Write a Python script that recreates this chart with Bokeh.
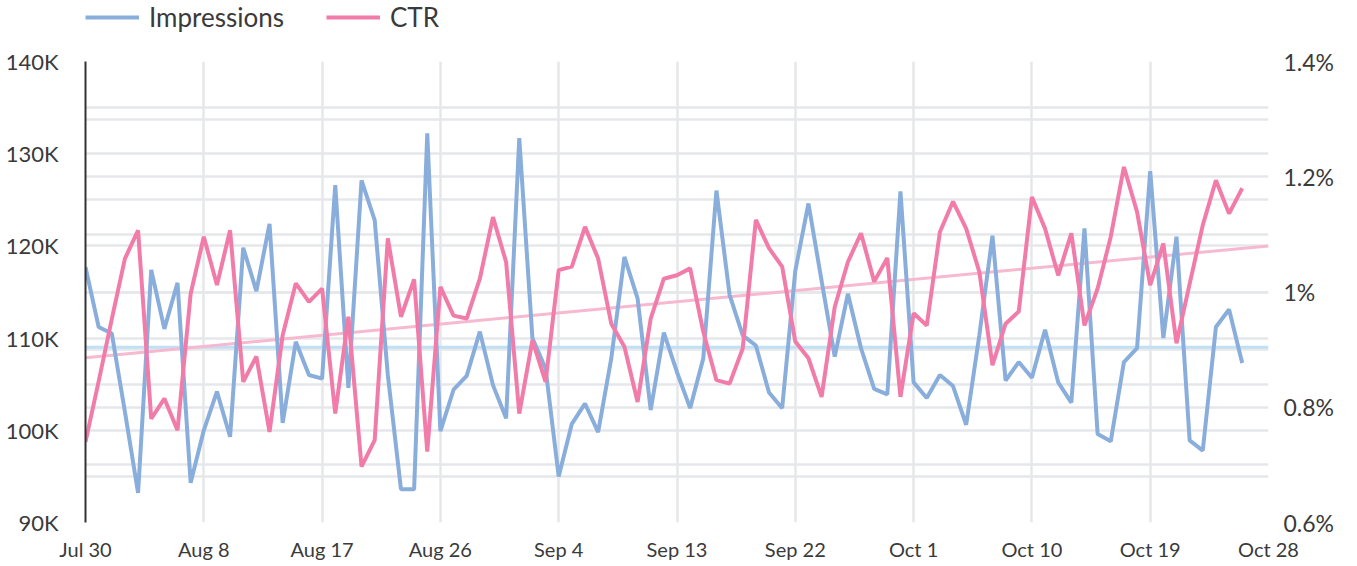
from bokeh.plotting import figure
from bokeh.layouts import column
from bokeh.models import (ColumnDataSource, Range1d, LinearAxis, FixedTicker,
                          CustomJSTickFormatter, Grid, Legend, LegendItem)
from bokeh.embed import file_html
from bokeh.resources import INLINE

# ---- data ----
tick_days = [0, 9, 18, 27, 36, 45, 54, 63, 72, 81, 90]
tick_labels = ["Jul 30", "Aug 8", "Aug 17", "Aug 26", "Sep 4", "Sep 13",
               "Sep 22", "Oct 1", "Oct 10", "Oct 19", "Oct 28"]

impressions_k = [
    117.7, 111.2, 110.5, 102.0, 93.2, 117.4, 111.0, 116.0, 94.3, 100.0,
    104.2, 99.3, 119.8, 115.1, 122.4, 100.8, 109.6, 106.0, 105.6, 126.6,
    104.6, 127.1, 122.8, 106.0, 93.6, 93.6, 132.2, 99.9, 104.4, 105.9,
    110.7, 104.9, 101.3, 131.7, 110.0, 106.7, 95.0, 100.7, 102.9, 99.8,
    107.8, 118.8, 114.3, 102.2, 110.6, 106.3, 102.4, 107.8, 126.0, 114.7,
    110.3, 109.2, 104.1, 102.4, 117.3, 124.6, 116.2, 108.0, 114.8, 108.9,
    104.5, 103.9, 125.9, 105.2, 103.5, 106.0, 104.8, 100.6, 110.3, 121.1,
    105.4, 107.4, 105.7, 110.9, 105.2, 103.0, 121.9, 99.6, 98.8, 107.4,
    108.9, 128.1, 110.0, 121.0, 98.9, 97.8, 111.2, 113.1, 107.3,
]

ctr_pct = [
    0.740, 0.845, 0.953, 1.058, 1.107, 0.780, 0.815, 0.760, 0.997, 1.096,
    1.012, 1.107, 0.844, 0.888, 0.757, 0.925, 1.015, 0.983, 1.006, 0.789,
    0.957, 0.697, 0.743, 1.093, 0.957, 1.022, 0.723, 1.009, 0.959, 0.954,
    1.023, 1.130, 1.052, 0.789, 0.916, 0.844, 1.038, 1.044, 1.113, 1.058,
    0.945, 0.905, 0.809, 0.954, 1.023, 1.029, 1.041, 0.931, 0.847, 0.841,
    0.902, 1.125, 1.076, 1.044, 0.914, 0.885, 0.818, 0.974, 1.052, 1.102,
    1.018, 1.059, 0.818, 0.963, 0.942, 1.104, 1.157, 1.110, 1.035, 0.873,
    0.945, 0.966, 1.165, 1.110, 1.029, 1.102, 0.942, 1.006, 1.096, 1.217,
    1.139, 1.012, 1.084, 0.911, 1.014, 1.116, 1.194, 1.136, 1.180,
]

trend_days = [0, 90]
impressions_trend_k = [109.0, 109.0]
ctr_trend_pct = [0.886, 1.080]

# ---- build ----
days = list(range(len(impressions_k)))
src = ColumnDataSource(dict(day=days,
                            impr=[v * 1000 for v in impressions_k],
                            ctr=ctr_pct))
trend_src = ColumnDataSource(dict(day=trend_days,
                                  impr=[v * 1000 for v in impressions_trend_k],
                                  ctr=ctr_trend_pct))

FONT = "Lato"
GRID = "#e6e7ea"
TXT = "#3a3a3a"
BLUE = "#8aaedc"
PINK = "#f27ca9"
LW = 4

p = figure(frame_width=1183, frame_height=461,
           min_border_left=85, min_border_right=73,
           min_border_top=21, min_border_bottom=40,
           x_range=Range1d(0, 90), y_range=Range1d(90000, 140000),
           output_backend="svg", toolbar_location=None,
           background_fill_color="white", border_fill_color="white")
p.outline_line_color = None
p.extra_y_ranges = {"ctr": Range1d(0.6, 1.4)}

# x axis
p.xaxis.ticker = FixedTicker(ticks=tick_days)
p.xaxis.major_label_overrides = {d: lab for d, lab in zip(tick_days, tick_labels)}
p.xaxis.axis_line_color = None
p.xaxis.major_tick_line_color = None
p.xaxis.minor_tick_line_color = None
p.xaxis.major_label_standoff = 8
p.xaxis.major_label_text_font = FONT
p.xaxis.major_label_text_font_size = "20px"
p.xaxis.major_label_text_color = TXT

# left axis
p.yaxis.ticker = FixedTicker(ticks=[90000, 100000, 110000, 120000, 130000, 140000],
                             minor_ticks=[95000, 105000, 115000, 125000, 135000])
p.yaxis.formatter = CustomJSTickFormatter(code="return Math.round(tick/1000) + 'K';")
p.yaxis.axis_line_color = "#333333"
p.yaxis.axis_line_width = 2
p.yaxis.major_tick_line_color = None
p.yaxis.minor_tick_line_color = None
p.yaxis.major_label_standoff = 21
p.yaxis.major_label_text_font = FONT
p.yaxis.major_label_text_font_size = "22px"
p.yaxis.major_label_text_color = TXT

# right axis
ra = LinearAxis(y_range_name="ctr",
                ticker=FixedTicker(ticks=[0.6, 0.8, 1.0, 1.2, 1.4]),
                formatter=CustomJSTickFormatter(
                    code="var s = tick.toFixed(1); if (s.endsWith('.0')) s = s.slice(0, -2); return s + '%';"))
ra.axis_line_color = None
ra.major_tick_line_color = None
ra.minor_tick_line_color = None
ra.major_label_standoff = 9
ra.major_label_text_font = FONT
ra.major_label_text_font_size = "23px"
ra.major_label_text_color = TXT
p.add_layout(ra, "right")

# grids
p.xgrid.grid_line_color = GRID
p.xgrid.grid_line_width = 2.5
p.ygrid.grid_line_color = GRID
p.ygrid.grid_line_width = 2.5
p.ygrid.minor_grid_line_color = GRID
p.ygrid.minor_grid_line_width = 2.5
rgrid = Grid(dimension=1, y_range_name="ctr",
             ticker=FixedTicker(ticks=[0.6, 0.7, 0.8, 0.9, 1.0, 1.1, 1.2, 1.3, 1.4]),
             grid_line_color=GRID, grid_line_width=2.5)
p.add_layout(rgrid)

# trend lines
p.line("day", "impr", source=trend_src, color="#bfe0f5", line_width=3)
p.line("day", "ctr", source=trend_src, y_range_name="ctr", color="#f6b9d0", line_width=3)

# data lines
p.line("day", "impr", source=src, color=BLUE, line_width=LW)
p.line("day", "ctr", source=src, y_range_name="ctr", color=PINK, line_width=LW)

# ---- legend strip (separate small figure so it is not clipped) ----
lg = figure(width=1341, height=40, x_range=Range1d(0, 1), y_range=Range1d(0, 1),
            output_backend="svg", toolbar_location=None,
            min_border=0, min_border_left=0, min_border_right=0,
            min_border_top=0, min_border_bottom=0)
lg.axis.visible = False
lg.grid.visible = False
lg.outline_line_color = None
# swatch renderers: a single point placed outside the visible range
r_imp = lg.line([-5, -5], [-5, -5], color=BLUE, line_width=LW)
r_ctr = lg.line([-5, -5], [-5, -5], color=PINK, line_width=LW)
legend = Legend(items=[LegendItem(label="Impressions", renderers=[r_imp]),
                       LegendItem(label="CTR", renderers=[r_ctr])],
                orientation="horizontal", location=(0, 7),
                padding=0, margin=0, spacing=42, glyph_width=54, glyph_height=24,
                label_standoff=10, label_text_font=FONT, label_text_font_size="26px",
                label_text_color=TXT, border_line_color=None,
                background_fill_alpha=0)
lg.add_layout(legend, "center")

layout = column(lg, p, spacing=0)
open("out.html", "w").write(file_html(layout, INLINE))
